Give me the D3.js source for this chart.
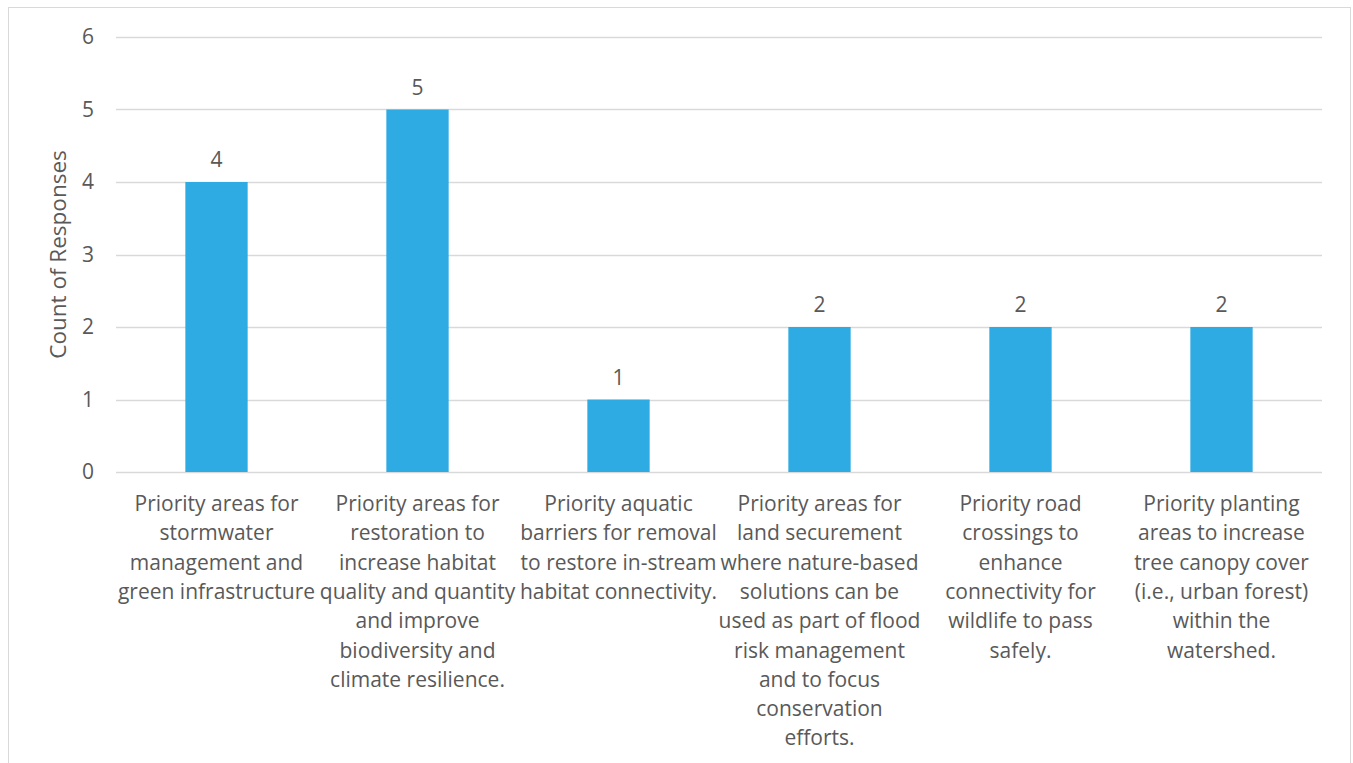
<!DOCTYPE html>
<html>
<head>
<meta charset="utf-8">
<script src="https://cdn.jsdelivr.net/npm/d3@7"></script>
<style>
  html, body { margin: 0; padding: 0; background: #fff; }
  svg { display: block; }
  text { font-family: "Open Sans", sans-serif; fill: #595959; }
</style>
</head>
<body>
<svg id="chart" width="1353" height="763"></svg>
<script>
// Survey categories, each split into the lines shown under the axis
const categories = [
  ["Priority areas for", "stormwater", "management and", "green infrastructure"],
  ["Priority areas for", "restoration to", "increase habitat", "quality and quantity", "and improve", "biodiversity and", "climate resilience."],
  ["Priority aquatic", "barriers for removal", "to restore in-stream", "habitat connectivity."],
  ["Priority areas for", "land securement", "where nature-based", "solutions can be", "used as part of flood", "risk management", "and to focus", "conservation", "efforts."],
  ["Priority road", "crossings to", "enhance", "connectivity for", "wildlife to pass", "safely."],
  ["Priority planting", "areas to increase", "tree canopy cover", "(i.e., urban forest)", "within the", "watershed."]
];
const counts = [4, 5, 1, 2, 2, 2];
const yTicks = [0, 1, 2, 3, 4, 5, 6];
const yTitle = "Count of Responses";

const svg = d3.select("#chart");

// chart frame
svg.append("rect")
  .attr("x", 8.5).attr("y", 7.5)
  .attr("width", 1342).attr("height", 800)
  .attr("fill", "#fff").attr("stroke", "#d9d9d9").attr("stroke-width", 1);

const plot = { left: 116, right: 1322, top: 37, bottom: 472 };

const x = d3.scaleBand()
  .domain(d3.range(categories.length))
  .range([plot.left, plot.right])
  .padding(0);

const y = d3.scaleLinear()
  .domain([0, 6])
  .range([plot.bottom, plot.top]);

// horizontal gridlines
svg.append("g")
  .selectAll("line")
  .data(yTicks)
  .join("line")
  .attr("x1", plot.left).attr("x2", plot.right)
  .attr("y1", d => Math.round(y(d)) + 0.5)
  .attr("y2", d => Math.round(y(d)) + 0.5)
  .attr("stroke", "#d9d9d9")
  .attr("stroke-width", 1.5);

// y tick labels
const yAxis = d3.axisLeft(y).tickValues(yTicks).tickFormat(d3.format("d")).tickSize(0).tickPadding(0);
const gy = svg.append("g")
  .attr("transform", `translate(${plot.left - 22},0)`)
  .call(yAxis);
gy.select(".domain").remove();
gy.selectAll("text")
  .attr("font-size", 21)
  .style("font-family", '"Open Sans", sans-serif')
  .attr("fill", "#595959");

// y axis title
svg.append("text")
  .attr("transform", `translate(66,${(plot.top + plot.bottom) / 2}) rotate(-90)`)
  .attr("text-anchor", "middle")
  .style("font-size", "22.5px")
  .text(yTitle);

// bars
const barW = x.bandwidth() * 0.31;
svg.append("g")
  .selectAll("rect")
  .data(counts)
  .join("rect")
  .attr("x", (d, i) => x(i) + x.bandwidth() / 2 - barW / 2)
  .attr("y", d => y(d))
  .attr("width", barW)
  .attr("height", d => y(0) - y(d))
  .attr("fill", "#2eabe2");

// value labels
svg.append("g")
  .selectAll("text")
  .data(counts)
  .join("text")
  .attr("x", (d, i) => x(i) + x.bandwidth() / 2)
  .attr("y", d => y(d) - 15)
  .attr("text-anchor", "middle")
  .style("font-size", "21px")
  .text(d => d);

// category labels
const lineH = 29.3;
const cat = svg.append("g")
  .selectAll("text")
  .data(categories)
  .join("text")
  .attr("text-anchor", "middle")
  .style("font-size", "21px");
cat.each(function (lines, i) {
  d3.select(this).selectAll("tspan")
    .data(lines)
    .join("tspan")
    .attr("x", x(i) + x.bandwidth() / 2)
    .attr("y", (l, j) => plot.bottom + 39 + j * lineH)
    .text(l => l);
});
</script>
</body>
</html>
